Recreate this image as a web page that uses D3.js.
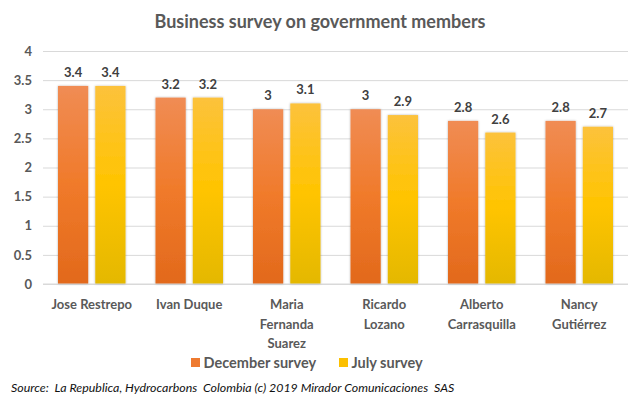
<!DOCTYPE html>
<html>
<head>
<meta charset="utf-8">
<script src="https://cdn.jsdelivr.net/npm/d3@7"></script>
<style>
  body { margin: 0; background: #fff; }
  svg { display: block; font-family: Lato, "Open Sans", sans-serif; }
</style>
</head>
<body>
<div id="chart"></div>
<script>
"use strict";

const names = [
  ['Jose Restrepo'],
  ['Ivan Duque'],
  ['Maria', 'Fernanda', 'Suarez'],
  ['Ricardo', 'Lozano'],
  ['Alberto', 'Carrasquilla'],
  ['Nancy', 'Gutiérrez']
];
const decemberSurvey = [3.4, 3.2, 3, 3, 2.8, 2.8];
const julySurvey = [3.4, 3.2, 3.1, 2.9, 2.6, 2.7];
const yTicks = [0, 0.5, 1, 1.5, 2, 2.5, 3, 3.5, 4];
const seriesNames = ['December survey', 'July survey'];

const width = 643;
const height = 397;
const textColour = '#595959';

const svg = d3.select('#chart')
  .append('svg')
  .attr('width', width)
  .attr('height', height);

const defs = svg.append('defs');

const decGrad = defs.append('linearGradient')
  .attr('id', 'grad_dec')
  .attr('x1', 0).attr('y1', 0).attr('x2', 0).attr('y2', 1);
decGrad.append('stop').attr('offset', '0%').attr('stop-color', '#f08c54');
decGrad.append('stop').attr('offset', '50%').attr('stop-color', '#f07a2a');
decGrad.append('stop').attr('offset', '100%').attr('stop-color', '#e2691c');

const julGrad = defs.append('linearGradient')
  .attr('id', 'grad_jul')
  .attr('x1', 0).attr('y1', 0).attr('x2', 0).attr('y2', 1);
julGrad.append('stop').attr('offset', '0%').attr('stop-color', '#fcc23c');
julGrad.append('stop').attr('offset', '50%').attr('stop-color', '#ffc400');
julGrad.append('stop').attr('offset', '100%').attr('stop-color', '#e4b800');

const shadow = defs.append('filter')
  .attr('id', 'bar_shadow')
  .attr('x', '-20%').attr('y', '-5%').attr('width', '140%').attr('height', '110%');
shadow.append('feDropShadow')
  .attr('dx', 0).attr('dy', 0).attr('stdDeviation', 1.2)
  .attr('flood-color', '#000').attr('flood-opacity', 0.3);

const x = d3.scaleBand()
  .domain(d3.range(names.length))
  .range([43, 628]);

const xSub = d3.scaleBand()
  .domain([0, 1])
  .range([15, x.bandwidth() - 15])
  .paddingInner(0.19);

const y = d3.scaleLinear()
  .domain([0, 4])
  .range([284, 51]);

// title
svg.append('text')
  .attr('x', 320)
  .attr('y', 28)
  .attr('text-anchor', 'middle')
  .attr('fill', textColour)
  .attr('font-size', 18)
  .attr('font-weight', 'bold')
  .text('Business survey on government members');

// grid + y axis
const yAxis = d3.axisLeft(y)
  .tickValues(yTicks)
  .tickFormat(d => d)
  .tickSize(-(628 - 43))
  .tickPadding(11);

const gy = svg.append('g')
  .attr('transform', 'translate(43,0)')
  .call(yAxis);
gy.select('.domain').remove();
gy.selectAll('.tick line').attr('stroke', '#d9d9d9').attr('stroke-width', 1);
gy.selectAll('.tick text')
  .attr('fill', textColour)
  .attr('font-size', 13)
  .attr('font-weight', 'bold')
  .attr('font-family', 'Lato, sans-serif');

const series = [decemberSurvey, julySurvey];
const fills = ['url(#grad_dec)', 'url(#grad_jul)'];

const groups = svg.append('g')
  .selectAll('g')
  .data(names)
  .enter().append('g')
    .attr('transform', (d, i) => `translate(${x(i)},0)`);

series.forEach((values, s) => {
  groups.append('rect')
    .attr('x', xSub(s))
    .attr('width', xSub.bandwidth())
    .attr('y', (d, i) => y(values[i]))
    .attr('height', (d, i) => y(0) - y(values[i]))
    .attr('fill', fills[s])
    .attr('filter', 'url(#bar_shadow)');

  groups.append('text')
    .attr('x', xSub(s) + xSub.bandwidth() / 2)
    .attr('y', (d, i) => y(values[i]) - 9)
    .attr('text-anchor', 'middle')
    .attr('fill', '#404040')
    .attr('font-size', 13)
    .attr('font-weight', 'bold')
    .text((d, i) => values[i]);
});

// baseline
svg.append('line')
  .attr('x1', 43).attr('x2', 628)
  .attr('y1', y(0)).attr('y2', y(0))
  .attr('stroke', '#d9d9d9');

// category labels
const labels = groups.append('text')
  .attr('text-anchor', 'middle')
  .attr('fill', textColour)
  .attr('font-size', 13)
  .attr('font-weight', 'bold');

labels.selectAll('tspan')
  .data(d => d)
  .enter().append('tspan')
    .attr('x', x.bandwidth() / 2)
    .attr('y', (d, i) => 309 + i * 19.5)
    .text(d => d);

// legend
const legendX = [191, 339];
const legend = svg.append('g')
  .selectAll('g')
  .data(seriesNames)
  .enter().append('g')
    .attr('transform', (d, i) => `translate(${legendX[i]},358)`);

legend.append('rect')
  .attr('width', 9)
  .attr('height', 9)
  .attr('fill', (d, i) => i ? '#fcc000' : '#ee7a30');

legend.append('text')
  .attr('x', 12.5)
  .attr('y', 9.5)
  .attr('fill', textColour)
  .attr('font-size', 14.5)
  .attr('font-weight', 'bold')
  .text(d => d);

// source
svg.append('text')
  .attr('x', 11)
  .attr('y', 392)
  .attr('fill', '#111')
  .attr('font-size', 12.4)
  .attr('font-style', 'italic')
  .attr('font-family', 'Lato, sans-serif')
  .style('white-space', 'pre')
  .text('Source:  La Republica, Hydrocarbons  Colombia (c) 2019 Mirador Comunicaciones  SAS');
</script>
</body>
</html>
